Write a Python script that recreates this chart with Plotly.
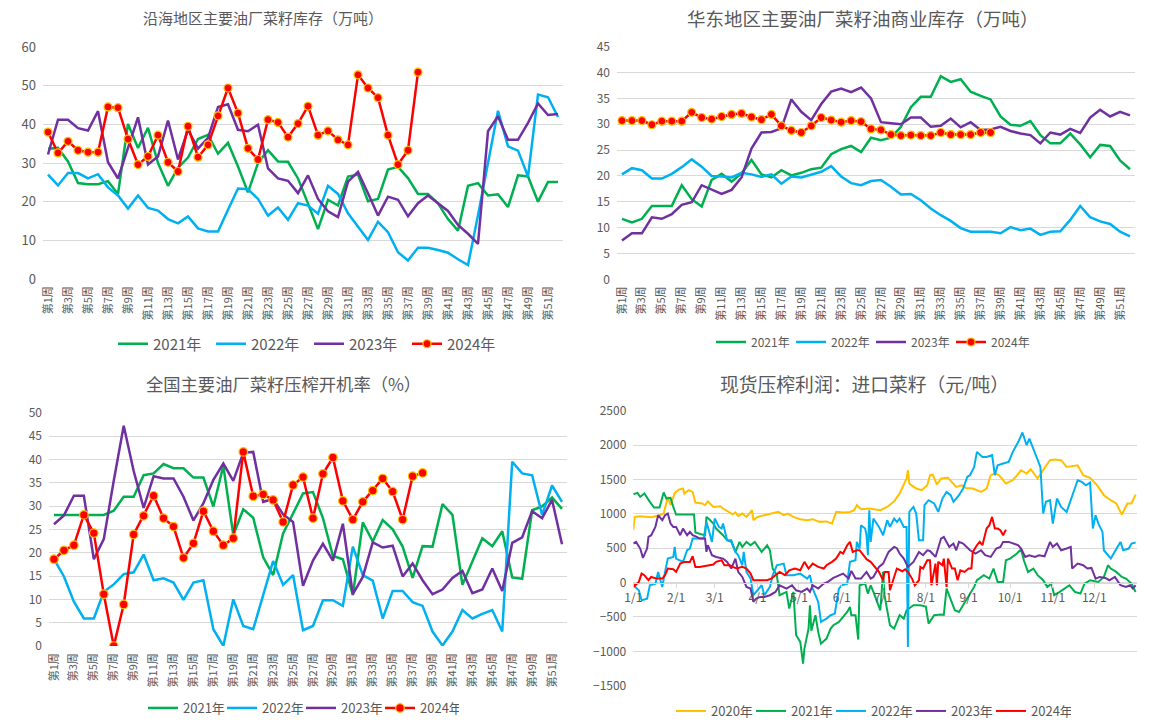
import plotly.graph_objects as go
import pandas as pd

# ---------------- weekly charts ----------------
weeks = list(range(1, 53))
week_tick_vals = list(range(1, 52, 2))
week_tick_text = [f"第{w}周" for w in week_tick_vals]

# Chart 1: 沿海地区主要油厂菜籽库存（万吨）
coast_2021 = [33.7, 33.9, 30.4, 24.8, 24.5, 24.5, 25.3, 22.0, 40.1, 33.9,
              39.1, 30.0, 24.1, 28.8, 31.4, 36.2, 37.3, 32.4, 35.2, 29.1,
              22.4, 30.0, 33.3, 30.4, 30.3, 26.0, 19.5, 12.9, 20.5, 19.0,
              26.5, 27.0, 20.1, 20.7, 28.3, 29.0, 26.1, 22.0, 22.0, 19.6,
              15.5, 12.5, 24.1, 24.8, 21.6, 21.9, 18.6, 26.8, 26.5, 20.0,
              25.1, 25.1]
coast_2022 = [27.0, 24.2, 27.4, 27.4, 26.0, 27.1, 23.7, 21.6, 18.2, 21.6,
              18.4, 17.7, 15.5, 14.4, 16.2, 13.1, 12.3, 12.3, 17.9, 23.4,
              23.2, 20.7, 16.4, 18.5, 15.3, 19.6, 19.0, 16.9, 24.1, 22.0,
              17.0, 13.4, 10.1, 14.8, 12.1, 6.9, 4.8, 8.1, 8.1, 7.5,
              6.8, 5.1, 3.6, 16.5, 30.0, 43.5, 34.3, 33.2, 26.5, 47.7,
              47.0, 41.9]
coast_2023 = [32.2, 41.2, 41.2, 39.0, 38.4, 43.4, 30.2, 26.0, 33.9, 41.8,
              29.6, 31.7, 41.0, 30.9, 38.6, 33.7, 36.5, 44.5, 45.2, 38.6,
              38.2, 39.9, 28.6, 26.0, 25.4, 22.2, 26.8, 20.7, 17.5, 16.0,
              25.2, 27.7, 22.2, 16.4, 21.3, 20.5, 16.2, 19.6, 21.6, 19.6,
              17.6, 14.0, 11.7, 9.1, 38.2, 42.1, 36.0, 36.0, 40.4, 45.4,
              42.4, 42.7]
coast_2024 = [38.0, 32.6, 35.6, 33.3, 32.8, 32.8, 44.5, 44.3, 36.2, 29.6,
              31.7, 37.2, 30.2, 27.8, 39.5, 31.5, 34.7, 42.2, 49.4, 42.9,
              33.8, 30.9, 41.2, 40.5, 36.7, 40.2, 44.7, 37.2, 38.3, 36.0,
              34.7, 52.8, 49.4, 46.9, 37.2, 29.6, 33.3, 53.5]

# Chart 2: 华东地区主要油厂菜籽油商业库存（万吨）
east_2021 = [11.7, 11.0, 11.7, 14.2, 14.2, 14.2, 18.2, 15.5, 14.1, 19.2,
             20.4, 18.9, 20.5, 23.1, 20.3, 19.7, 21.1, 20.1, 20.6, 21.3,
             21.6, 24.2, 25.2, 25.8, 24.6, 27.4, 26.9, 27.4, 29.5, 33.3,
             35.3, 35.3, 39.3, 38.2, 38.7, 36.3, 35.5, 34.8, 31.5, 29.9,
             29.7, 30.6, 27.9, 26.3, 26.3, 28.2, 26.1, 23.6, 26.0, 25.8,
             23.0, 21.3]
east_2022 = [20.3, 21.5, 21.1, 19.5, 19.5, 20.4, 21.7, 23.2, 21.8, 20.0,
             19.9, 19.7, 20.6, 20.3, 19.8, 20.3, 18.5, 19.9, 19.7, 20.2,
             20.8, 21.9, 19.9, 18.6, 18.2, 19.0, 19.2, 17.9, 16.4, 16.5,
             15.3, 13.7, 12.4, 11.3, 9.9, 9.2, 9.2, 9.2, 8.9, 10.1,
             9.5, 9.8, 8.6, 9.2, 9.3, 11.5, 14.2, 12.0, 11.2, 10.7,
             9.2, 8.3]
east_2023 = [7.5, 8.9, 8.9, 12.0, 11.7, 12.6, 14.4, 14.9, 18.2, 17.4,
             16.5, 17.3, 19.7, 25.3, 28.4, 28.5, 29.2, 34.8, 32.4, 30.8,
             33.9, 36.3, 36.9, 36.2, 37.1, 35.0, 30.4, 30.2, 30.0, 31.3,
             31.3, 29.5, 29.7, 31.1, 29.4, 30.4, 28.9, 29.0, 29.5, 28.7,
             28.2, 27.9, 26.3, 28.4, 28.0, 29.1, 28.3, 31.3, 32.8, 31.5,
             32.4, 31.7]
east_2024 = [30.7, 30.7, 30.7, 29.9, 30.6, 30.6, 30.6, 32.3, 31.3, 31.0,
             31.5, 31.9, 32.1, 31.4, 30.9, 31.9, 29.7, 28.8, 28.4, 29.7,
             31.3, 30.8, 30.4, 30.7, 30.5, 29.1, 28.9, 28.0, 27.8, 27.9,
             27.8, 27.8, 28.4, 28.0, 28.0, 28.0, 28.4, 28.4]

# Chart 3: 全国主要油厂菜籽压榨开机率（%）
crush_2021 = [28.1, 28.1, 28.1, 28.1, 28.1, 28.1, 29.0, 32.0, 32.0, 36.6,
              37.0, 39.0, 38.1, 38.1, 36.1, 36.1, 29.9, 38.6, 23.8, 29.3,
              27.5, 19.0, 15.2, 24.1, 28.4, 32.7, 33.0, 27.4, 19.3, 18.6,
              10.9, 26.5, 22.4, 27.0, 25.0, 21.3, 14.6, 21.4, 21.3, 30.4,
              28.1, 13.1, 18.1, 23.1, 21.4, 24.6, 14.7, 14.4, 29.1, 29.9,
              31.8, 29.4]
crush_2022 = [18.6, 14.9, 9.5, 5.9, 5.9, 11.6, 13.2, 15.4, 15.8, 19.6,
              14.1, 14.5, 13.6, 9.9, 13.6, 14.1, 3.6, 0.0, 10.0, 4.3,
              3.6, 10.9, 18.2, 13.1, 15.2, 3.4, 4.3, 9.8, 9.8, 8.6,
              21.3, 15.2, 14.0, 5.9, 11.8, 11.8, 9.4, 8.6, 3.1, 0.1,
              3.1, 7.7, 5.9, 6.9, 7.7, 3.1, 39.5, 37.0, 36.6, 28.1,
              34.4, 30.9]
crush_2023 = [26.1, 28.0, 32.2, 32.2, 18.6, 22.9, 35.4, 47.2, 37.5, 29.6,
              36.4, 35.9, 35.9, 32.0, 26.9, 30.6, 35.6, 39.1, 35.4, 41.4,
              41.6, 30.9, 31.5, 28.2, 26.6, 12.9, 18.3, 21.9, 18.3, 26.2,
              11.1, 14.8, 22.2, 21.1, 21.5, 14.9, 17.7, 14.1, 11.1, 12.1,
              14.6, 16.1, 11.3, 12.1, 16.6, 11.8, 22.1, 23.3, 28.9, 27.4,
              31.3, 21.8]
crush_2024 = [18.6, 20.5, 21.6, 28.1, 24.2, 11.1, 0.0, 8.9, 23.9, 27.9,
              32.2, 27.4, 25.6, 18.9, 22.0, 28.9, 24.6, 21.6, 23.1, 41.6,
              32.1, 32.5, 31.3, 26.6, 34.5, 36.2, 27.4, 36.9, 40.4, 31.1,
              27.1, 30.9, 33.3, 35.9, 33.1, 27.1, 36.4, 37.1]

# ---------------- Chart 4: 现货压榨利润：进口菜籽（元/吨） ----------------
# day offsets from 1 Jan, and values
p2020_day = [0, 1, 5, 10, 13, 19, 22, 25, 27, 30, 33, 36, 37, 40, 43, 45, 50, 52, 54, 58,
             63, 65, 69, 72, 74, 76, 79, 82, 84, 86, 87, 90, 95, 100, 105, 109, 112, 116, 121, 126,
             130, 135, 140, 144, 147, 152, 157, 160, 162, 165, 171, 179, 184, 189, 193, 198, 199, 200, 205, 209,
             213, 215, 217, 220, 223, 228, 234, 238, 241, 246, 252, 256, 259, 262, 265, 270, 275, 281, 285, 288,
             293, 298, 302, 305, 310, 314, 317, 322, 326, 331, 336, 341, 346, 350, 354, 358, 361, 364]
p2020_val = [761, 955, 965, 960, 950, 980, 1004, 1246, 1125, 1300, 1353, 1368, 1295, 1343, 1319, 1164, 1150, 1125, 1183, 1100,
             1110, 1077, 1028, 994, 1020, 970, 1004, 955, 1004, 1052, 907, 955, 980, 1004, 1028, 980, 1004, 955, 922, 907,
             922, 883, 890, 858, 1028, 1018, 1028, 1052, 1125, 1067, 1077, 1052, 1100, 1183, 1295, 1513, 1634, 1440, 1368, 1343,
             1416, 1562, 1571, 1426, 1513, 1523, 1392, 1416, 1377, 1368, 1319, 1368, 1562, 1586, 1562, 1440, 1489, 1634, 1586, 1649,
             1513, 1668, 1780, 1790, 1780, 1683, 1693, 1707, 1562, 1523, 1416, 1271, 1198, 1150, 989, 1150, 1150, 1280]

p2021_day = [0, 3, 5, 8, 12, 15, 19, 22, 24, 27, 29, 31, 44, 45, 50, 52, 53, 55, 58, 60,
             65, 68, 71, 74, 77, 79, 82, 85, 88, 93, 97, 99, 101, 104, 106, 111, 113, 116, 118, 121,
             123, 124, 127, 128, 129, 132, 134, 136, 140, 143, 145, 149, 152, 155, 157, 158, 161, 163, 164, 168,
             170, 172, 174, 179, 181, 182, 186, 189, 193, 196, 198, 203, 208, 212, 214, 218, 223, 225, 227, 230,
             233, 236, 239, 243, 247, 249, 254, 258, 261, 264, 268, 270, 273, 278, 281, 283, 286, 290, 293, 297,
             300, 303, 305, 309, 314, 316, 320, 324, 327, 331, 337, 341, 344, 346, 350, 354, 357, 361, 364]
p2021_val = [1285, 1305, 1246, 1295, 1174, 1091, 1091, 1310, 1222, 1232, 1100, 989, 989, 728, 698, 689, 955, 922, 858, 786,
             689, 616, 592, 446, 592, 519, 592, 543, 592, 446, 543, 470, 204, 107, -184, -136, -378, -136, -766, -863,
             -1179, -960, -669, -330, -700, -475, -718, -888, -815, -669, -621, -572, -500, -427, -354, -475, -475, -829, -39, -15,
             -160, -39, -136, -403, 155, -184, -621, -669, -475, -524, -403, -330, -330, -350, -597, -475, -466, -470, -87, -233,
             -403, -427, -330, -209, -63, 34, 107, 58, 204, 10, 10, 325, 349, 422, 485, 325, 155, 204, 107, 34,
             -63, -15, -184, -136, -63, -39, -136, -160, -15, 34, 10, 82, 252, 204, 155, 82, 58, -15, -136]

p2022_day = [0, 4, 6, 10, 12, 16, 18, 21, 23, 25, 29, 30, 31, 34, 36, 39, 41, 43, 46, 51,
             53, 55, 57, 59, 62, 64, 65, 68, 71, 74, 76, 79, 80, 82, 85, 87, 91, 93, 95, 99,
             101, 104, 109, 111, 116, 121, 126, 128, 130, 134, 136, 140, 143, 146, 149, 151, 155, 157, 161, 162,
             164, 165, 168, 169, 170, 171, 172, 174, 178, 181, 184, 186, 189, 191, 193, 196, 198, 199, 200, 203,
             205, 207, 210, 211, 214, 218, 221, 224, 227, 230, 232, 236, 239, 242, 244, 247, 249, 253, 256, 260,
             262, 264, 268, 272, 275, 279, 282, 285, 287, 290, 293, 295, 297, 299, 302, 304, 307, 310, 314, 318,
             322, 325, 328, 331, 333, 335, 337, 340, 341, 346, 350, 353, 355, 359, 361, 364]
p2022_val = [-39, -112, -257, -233, -39, -15, 155, -63, 155, 349, 373, 519, 349, 325, 301, 470, 495, 640, 640, 640,
             883, 737, 592, 931, 810, 786, 858, 616, 616, 446, 398, 252, 446, 155, 58, -184, -87, -39, -184, -63,
             107, 252, 276, 107, 107, 131, 58, 107, -87, -281, -572, -524, -475, -451, -87, -39, -15, 301, 325, 592,
             495, 834, 786, 689, 398, 1052, 592, 931, 810, 689, 907, 810, 931, 883, 931, 810, 810, -936, 1028, 1101,
             1004, 616, 616, 1125, 1198, 1150, 1028, 1222, 1319, 1271, 1174, 1271, 1368, 1537, 1562, 1683, 1901, 1828, 1828, 1853,
             1562, 1707, 1731, 1755, 1901, 2047, 2183, 1998, 2095, 1950, 1780, 1683, 1004, 1174, 1198, 858, 1222, 1101, 1028, 1271,
             1489, 1465, 1416, 1455, 786, 980, 858, 737, 470, 349, 495, 592, 470, 495, 567, 582]

p2023_day = [0, 2, 5, 7, 10, 11, 13, 16, 18, 21, 23, 25, 27, 29, 31, 34, 36, 39, 41, 43,
             46, 48, 52, 53, 54, 57, 60, 65, 68, 71, 74, 76, 79, 82, 85, 87, 89, 92, 95, 99,
             103, 106, 111, 115, 118, 122, 126, 128, 130, 134, 138, 141, 145, 149, 152, 156, 158, 161, 165, 169,
             172, 174, 178, 181, 185, 189, 191, 193, 196, 199, 203, 207, 210, 213, 215, 219, 223, 225, 229, 232,
             234, 236, 239, 244, 248, 252, 255, 259, 263, 266, 268, 272, 275, 279, 281, 284, 287, 291, 294, 298,
             302, 304, 307, 310, 314, 317, 318, 322, 326, 329, 332, 335, 338, 342, 345, 349, 353, 357, 360, 362, 364]
p2023_val = [567, 592, 495, 359, 495, 664, 689, 810, 980, 907, 980, 1004, 858, 810, 810, 689, 786, 689, 737, 689,
             664, 640, 640, 446, 543, 398, 373, 349, 301, 204, 349, 155, 82, -63, -87, -281, -233, -209, -209, -184,
             -136, -39, -87, -39, -112, -136, -87, -136, -39, -87, -15, 10, 68, 107, 131, 58, 170, 58, 58, 155,
             58, 82, 228, 276, 446, 519, 500, 422, 349, 228, 301, 446, 398, 470, 460, 373, 640, 664, 519, 567,
             470, 592, 567, 470, 422, 470, 398, 373, 495, 519, 592, 592, 567, 543, 495, 373, 398, 373, 398, 383,
             592, 519, 567, 470, 495, 519, 204, 276, 252, 204, 213, 58, 82, 68, 34, 82, -39, -63, -39, -87, -39]

p2024_day = [0, 1, 4, 6, 8, 11, 13, 17, 21, 23, 25, 29, 31, 34, 37, 41, 43, 45, 48, 53,
             58, 60, 64, 66, 70, 72, 75, 79, 82, 85, 87, 92, 97, 100, 104, 106, 110, 113, 117, 121,
             124, 127, 130, 134, 138, 140, 144, 147, 150, 152, 155, 157, 159, 162, 164, 167, 169, 172, 174, 178,
             181, 182, 185, 186, 189, 191, 195, 197, 199, 202, 204, 207, 208, 210, 213, 215, 216, 219, 220, 221,
             224, 225, 227, 228, 231, 233, 235, 237, 240, 243, 245, 246, 249, 251, 253, 256, 258, 260, 262, 264,
             266, 268, 270]
p2024_val = [-15, -48, 10, 131, 107, 34, 82, 58, 58, 107, 204, 194, 155, 276, 301, 301, 383, 228, 228, 243,
             262, 301, 325, 252, 252, 228, 204, 228, 204, 131, 34, 34, 34, 58, 131, 155, 107, 179, 204, 179,
             301, 204, 276, 228, 204, 252, 301, 349, 446, 422, 543, 592, 446, 470, 470, 398, 340, 301, 252, 155,
             34, 155, 155, -112, 82, 204, 165, 194, 155, 58, -39, 34, 228, 204, 325, 325, -39, 276, -39, 301,
             252, 349, -63, 349, 204, 204, 34, 179, 155, 204, 204, 446, 543, 592, 543, 786, 834, 955, 786, 786,
             761, 689, 771]

month_starts = ["2021-01-01", "2021-02-01", "2021-03-01", "2021-04-01", "2021-05-01", "2021-06-01",
                "2021-07-01", "2021-08-01", "2021-09-01", "2021-10-01", "2021-11-01", "2021-12-01"]
month_labels = ["1/1", "2/1", "3/1", "4/1", "5/1", "6/1", "7/1", "8/1", "9/1", "10/1", "11/1", "12/1"]

base = pd.Timestamp("2021-01-01")
def to_dates(days):
    return [base + pd.Timedelta(days=d) for d in days]

# ---------------- styling ----------------
C2020 = "#FFC000"
C2021 = "#00B050"
C2022 = "#00B0F0"
C2023 = "#7030A0"
C2024 = "#FF0000"
GRID = "#D9D9D9"
TXT = "#595959"
FONT = "Noto Sans CJK SC, Microsoft YaHei, sans-serif"

W, H = 1158, 725
def fx(px):
    return px / W
def fy(py):
    return 1 - py / H

fig = go.Figure()

def weekly(series, names, xa, ya, legend, msize):
    for vals, name, col in zip(series, names, [C2021, C2022, C2023, C2024]):
        x = weeks[:len(vals)]
        if name == "2024年":
            fig.add_trace(go.Scatter(
                x=x, y=vals, name=name, mode="lines+markers",
                line=dict(color=col, width=2.5),
                marker=dict(color=col, size=msize, line=dict(color="#FFC000", width=1.2)),
                xaxis=xa, yaxis=ya, legend=legend))
        else:
            fig.add_trace(go.Scatter(
                x=x, y=vals, name=name, mode="lines",
                line=dict(color=col, width=2.5),
                xaxis=xa, yaxis=ya, legend=legend))

names4 = ["2021年", "2022年", "2023年", "2024年"]
weekly([coast_2021, coast_2022, coast_2023, coast_2024], names4, "x", "y", "legend", 8)
weekly([east_2021, east_2022, east_2023, east_2024], names4, "x2", "y2", "legend2", 8)
weekly([crush_2021, crush_2022, crush_2023, crush_2024], names4, "x3", "y3", "legend3", 8.5)

for days, vals, name, col in [
        (p2020_day, p2020_val, "2020年", C2020),
        (p2021_day, p2021_val, "2021年", C2021),
        (p2022_day, p2022_val, "2022年", C2022),
        (p2023_day, p2023_val, "2023年", C2023),
        (p2024_day, p2024_val, "2024年", C2024)]:
    fig.add_trace(go.Scatter(
        x=to_dates(days), y=vals, name=name, mode="lines",
        line=dict(color=col, width=2),
        xaxis="x4", yaxis="y4", legend="legend4"))

# domains (pixel based)
d1x = [fx(43), fx(563)];   d1y = [fy(279), fy(47)]
d2x = [fx(617), fx(1135)]; d2y = [fy(279.3), fy(46.7)]
d3x = [fx(49), fx(567)];   d3y = [fy(646), fy(412.7)]
d4x = [fx(633.3), fx(1137)]; d4y = [fy(685.7), fy(410.7)]

tickfont = dict(family=FONT, size=12, color=TXT)
wk_font = dict(family=FONT, size=11, color=TXT)

def week_xaxis(domain, anchor):
    return dict(domain=domain, anchor=anchor, range=[0.5, 52.5], automargin=False,
                tickmode="array", tickvals=week_tick_vals, ticktext=week_tick_text,
                tickangle=-90, tickfont=wk_font, showgrid=False, zeroline=False,
                showline=False, ticks="", ticklabelstandoff=4, fixedrange=True)

def val_yaxis(domain, anchor, rng, dtick, size=12):
    return dict(domain=domain, anchor=anchor, range=rng, dtick=dtick, automargin=False,
                tickfont=dict(family=FONT, size=size, color=TXT),
                showgrid=True, gridcolor=GRID, gridwidth=1, zeroline=False,
                showline=False, ticks="", ticklabelstandoff=6)

pos0 = d4y[0] + (0 - (-1500)) / 4000 * (d4y[1] - d4y[0])

fig.update_layout(
    width=W, height=H,
    margin=dict(l=0, r=0, t=0, b=0, autoexpand=False),
    paper_bgcolor="white", plot_bgcolor="white",
    font=dict(family=FONT, color=TXT),
    xaxis=week_xaxis(d1x, "y"),
    yaxis=val_yaxis(d1y, "x", [0, 60], 10, 13),
    xaxis2=week_xaxis(d2x, "y2"),
    yaxis2=val_yaxis(d2y, "x2", [0, 45], 5),
    xaxis3=week_xaxis(d3x, "y3"),
    yaxis3=val_yaxis(d3y, "x3", [0, 50], 5),
    xaxis4=dict(domain=d4x, anchor="free", position=pos0, type="date", automargin=False,
                range=["2021-01-01", "2022-01-01"],
                tickmode="array", tickvals=month_starts, ticktext=month_labels,
                tickangle=0, tickfont=tickfont, showgrid=False, zeroline=False,
                showline=True, linecolor=GRID, linewidth=1,
                ticks="outside", ticklen=4, tickcolor=GRID, fixedrange=True),
    yaxis4=val_yaxis(d4y, "x4", [-1500, 2500], 500),
    showlegend=True,
    legend=dict(orientation="h", x=fx(113), y=fy(344), xanchor="left", yanchor="middle",
                font=dict(family=FONT, size=15, color=TXT), entrywidth=53,
                bgcolor="rgba(0,0,0,0)"),
    legend2=dict(orientation="h", x=fx(711), y=fy(342), xanchor="left", yanchor="middle",
                 font=dict(family=FONT, size=12, color=TXT), entrywidth=35,
                 bgcolor="rgba(0,0,0,0)"),
    legend3=dict(orientation="h", x=fx(143), y=fy(708), xanchor="left", yanchor="middle",
                 font=dict(family=FONT, size=13, color=TXT), entrywidth=34,
                 bgcolor="rgba(0,0,0,0)"),
    legend4=dict(orientation="h", x=fx(671), y=fy(711), xanchor="left", yanchor="middle",
                 font=dict(family=FONT, size=13, color=TXT), entrywidth=35,
                 bgcolor="rgba(0,0,0,0)"),
)

titles = [
    ("沿海地区主要油厂菜籽库存（万吨）", 263, 18, 15),
    ("华东地区主要油厂菜籽油商业库存（万吨）", 863, 18, 18.5),
    ("全国主要油厂菜籽压榨开机率（%）", 283, 383, 17.3),
    ("现货压榨利润：进口菜籽（元/吨）", 864, 383, 18.8),
]
for text, cx, cy, fs in titles:
    fig.add_annotation(text=text, xref="paper", yref="paper", x=fx(cx), y=fy(cy),
                       xanchor="center", yanchor="middle", showarrow=False,
                       font=dict(family=FONT, size=fs, color=TXT))

fig.write_html("out.html", config={"displayModeBar": False},
               post_script="document.body.style.margin='0';")
